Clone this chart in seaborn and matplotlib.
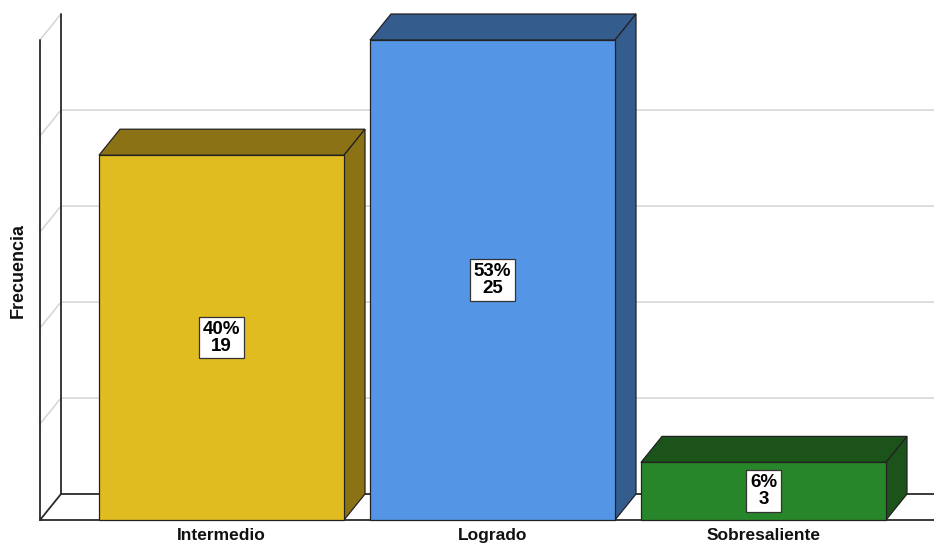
import matplotlib
matplotlib.use("Agg")
import matplotlib.pyplot as plt
import seaborn as sns
import numpy as np
import pandas as pd
from matplotlib.patches import Polygon

# ---- data ----
categories = ["Intermedio", "Logrado", "Sobresaliente"]
counts = [19, 25, 3]
percents = ["40%", "53%", "6%"]
grid_values = [5, 10, 15, 20]
wall_top = 25
y_label = "Frecuencia"

front_colors = ["#E0BC20", "#5496E5", "#28862A"]
dark_colors = ["#8B7214", "#345D8E", "#1B531B"]

sns.set_theme(style="white")
plt.rcParams["font.family"] = ["Liberation Sans", "DejaVu Sans"]

W, H, DPI = 934, 544, 100
fig = plt.figure(figsize=(W / DPI, H / DPI), dpi=DPI)
ax = fig.add_axes([0, 0, 1, 1])

# layout (pixel geometry of the reference)
px_per_cat = 271.0
x0_px = 221.5
px_per_unit = 19.2
base_row = 520.0
ddx = 21.0 / px_per_cat     # depth offset in x (data units)
ddy = 26.0 / px_per_unit    # depth offset in y (data units)
bar_w = 245.0 / px_per_cat

df = pd.DataFrame({"cat": categories, "n": counts})
sns.barplot(data=df, x="cat", y="n", hue="cat", palette=front_colors,
            saturation=1, legend=False, width=bar_w, edgecolor="#222222",
            linewidth=0.9, ax=ax, zorder=3)

xlim = (-x0_px / px_per_cat, (W - x0_px) / px_per_cat)
ylim = ((base_row - H) / px_per_unit, base_row / px_per_unit)
ax.set_xlim(*xlim)
ax.set_ylim(*ylim)
ax.axis("off")

# ---- walls and floor ----
first_left = -bar_w / 2
wall_x = first_left - 59.0 / px_per_cat
xr = xlim[1] + 0.1
line_dark = "#2a2a2a"
grid_c = "#d4d4d4"

for g in grid_values:
    ax.plot([wall_x + ddx, xr], [g + ddy, g + ddy], color=grid_c, lw=1.1, zorder=1)
    ax.plot([wall_x, wall_x + ddx], [g, g + ddy], color=grid_c, lw=1.1, zorder=1)
ax.plot([wall_x, wall_x + ddx], [wall_top, wall_top + ddy], color=grid_c, lw=1.1, zorder=1)
# floor
ax.plot([wall_x + ddx, xr], [ddy, ddy], color=line_dark, lw=1.3, zorder=1.5)
ax.plot([wall_x, xr], [0, 0], color=line_dark, lw=1.3, zorder=1.5)
ax.plot([wall_x, wall_x + ddx], [0, ddy], color=line_dark, lw=1.3, zorder=1.5)
# left wall verticals
ax.plot([wall_x, wall_x], [0, wall_top], color=line_dark, lw=1.3, zorder=1.5)
ax.plot([wall_x + ddx, wall_x + ddx], [ddy, wall_top + ddy], color=line_dark, lw=1.3, zorder=1.5)

# ---- 3D faces + labels ----
for p in ax.patches[:]:
    x0 = p.get_x()
    w = p.get_width()
    h = p.get_height()
    idx = int(round(x0 + w / 2))
    dc = dark_colors[idx]
    top = Polygon([(x0, h), (x0 + ddx, h + ddy), (x0 + w + ddx, h + ddy), (x0 + w, h)],
                  closed=True, facecolor=dc, edgecolor="#222222", lw=0.9, zorder=2.5)
    side = Polygon([(x0 + w, 0), (x0 + w + ddx, ddy), (x0 + w + ddx, h + ddy), (x0 + w, h)],
                   closed=True, facecolor=dc, edgecolor="#222222", lw=0.9, zorder=2.5)
    ax.add_patch(top)
    ax.add_patch(side)
    ax.text(x0 + w / 2, h / 2, f"{percents[idx]}\n{counts[idx]}",
            ha="center", va="center", fontsize=13.5, fontweight="bold",
            linespacing=1.0, color="black", zorder=6,
            bbox=dict(boxstyle="square,pad=0.2", facecolor="white",
                      edgecolor="#333333", lw=0.9))

# category labels
for i, c in enumerate(categories):
    ax.text(i, -0.8, c, ha="center", va="center", fontsize=12.5,
            fontweight="bold", color="#111111")

# y label
ax.text(wall_x - 22.0 / px_per_cat, 13.0, y_label, rotation=90, ha="center",
        va="center", fontsize=13, fontweight="bold", color="#111111")

fig.savefig("out.png", dpi=DPI, facecolor="white")
